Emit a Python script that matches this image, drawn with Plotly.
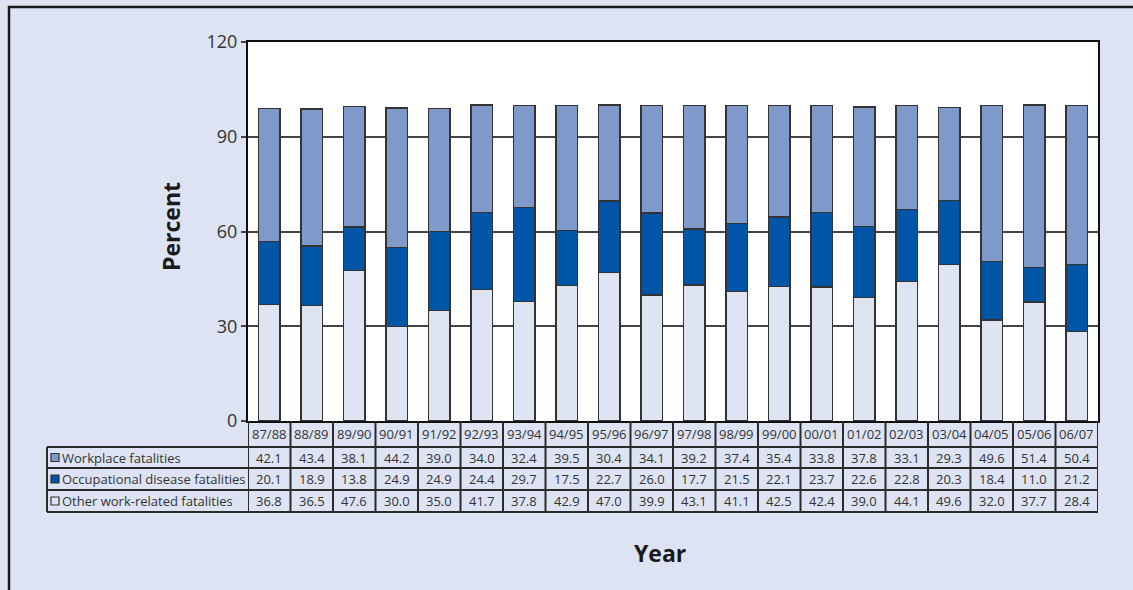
import plotly.graph_objects as go

# Fiscal years and the share of fatalities (percent) in each category
years = ["87/88", "88/89", "89/90", "90/91", "91/92", "92/93", "93/94", "94/95",
         "95/96", "96/97", "97/98", "98/99", "99/00", "00/01", "01/02", "02/03",
         "03/04", "04/05", "05/06", "06/07"]
workplace = [42.1, 43.4, 38.1, 44.2, 39.0, 34.0, 32.4, 39.5, 30.4, 34.1,
             39.2, 37.4, 35.4, 33.8, 37.8, 33.1, 29.3, 49.6, 51.4, 50.4]
occupational = [20.1, 18.9, 13.8, 24.9, 24.9, 24.4, 29.7, 17.5, 22.7, 26.0,
                17.7, 21.5, 22.1, 23.7, 22.6, 22.8, 20.3, 18.4, 11.0, 21.2]
other = [36.8, 36.5, 47.6, 30.0, 35.0, 41.7, 37.8, 42.9, 47.0, 39.9,
         43.1, 41.1, 42.5, 42.4, 39.0, 44.1, 49.6, 32.0, 37.7, 28.4]

series_names = ["Workplace fatalities", "Occupational disease fatalities",
                "Other work-related fatalities"]
y_ticks = [0, 30, 60, 90, 120]

C_WORK = "#7f99cb"
C_OCC = "#0055a6"
C_OTHER = "#dfe4f3"
BG = "#dde3f2"
LINE = "#2a2a2a"

W, H = 1133, 590
PL, PR, PT, PB = 248, 1098, 42, 421  # plot area in pixels


def fx(p):
    return (p - PL) / (PR - PL)


def fy(p):
    return (PB - p) / (PB - PT)


fig = go.Figure()
for name, vals, col in [(series_names[2], other, C_OTHER),
                        (series_names[1], occupational, C_OCC),
                        (series_names[0], workplace, C_WORK)]:
    fig.add_trace(go.Bar(x=years, y=vals, name=name, width=0.5,
                         marker=dict(color=col, line=dict(color="#333333", width=1.3)),
                         showlegend=False))

shapes = []
annotations = []

# outer frame
shapes.append(dict(type="rect", xref="paper", yref="paper",
                   x0=fx(9), x1=fx(W + 20), y0=fy(7), y1=fy(H + 20),
                   line=dict(color="#1a1a1a", width=2.5), layer="below"))

# data table below the plot
row_edges = [421, 447, 468, 490, 512]
table_left = 47
n = len(years)
# horizontal rules
for yp in row_edges[1:]:
    shapes.append(dict(type="line", xref="paper", yref="paper",
                       x0=fx(table_left), x1=1, y0=fy(yp), y1=fy(yp),
                       line=dict(color=LINE, width=2)))
# vertical rules at category boundaries
for i in range(n + 1):
    shapes.append(dict(type="line", xref="x", yref="paper",
                       x0=i - 0.5, x1=i - 0.5, y0=fy(row_edges[0]), y1=fy(row_edges[-1]),
                       line=dict(color=LINE, width=2)))
shapes.append(dict(type="line", xref="paper", yref="paper",
                   x0=fx(table_left), x1=fx(table_left),
                   y0=fy(row_edges[1]), y1=fy(row_edges[-1]),
                   line=dict(color=LINE, width=2)))

tfont = dict(family="Open Sans, Liberation Sans, sans-serif", size=13, color="#333333")
for i, yr in enumerate(years):
    annotations.append(dict(xref="x", yref="paper", x=i,
                            y=fy((row_edges[0] + row_edges[1]) / 2), text=yr,
                            showarrow=False, font=tfont, xanchor="center", yanchor="middle"))
rows = [workplace, occupational, other]
for r, vals in enumerate(rows):
    ymid = fy((row_edges[r + 1] + row_edges[r + 2]) / 2)
    for i, v in enumerate(vals):
        annotations.append(dict(xref="x", yref="paper", x=i, y=ymid, text=f"{v:.1f}",
                                showarrow=False, font=tfont, xanchor="center", yanchor="middle"))

# row labels with colour keys
for r, (name, col) in enumerate(zip(series_names, [C_WORK, C_OCC, C_OTHER])):
    yc = (row_edges[r + 1] + row_edges[r + 2]) / 2
    shapes.append(dict(type="rect", xref="paper", yref="paper",
                       x0=fx(51), x1=fx(59), y0=fy(yc - 4), y1=fy(yc + 4),
                       fillcolor=col, line=dict(color="#333333", width=1.2)))
    annotations.append(dict(xref="paper", yref="paper", x=fx(60), y=fy(yc), text=name,
                            showarrow=False, font=tfont, xanchor="left", yanchor="middle"))

# axis titles
title_font = dict(family="Open Sans, sans-serif", size=23, color="#1a1a1a")
annotations.append(dict(xref="paper", yref="paper", x=fx(171), y=fy(227), text="<b>Percent</b>",
                        textangle=-90, showarrow=False, font=title_font,
                        xanchor="center", yanchor="middle"))
annotations.append(dict(xref="paper", yref="paper", x=fx(660), y=fy(553), text="<b>Year</b>",
                        showarrow=False, font=title_font,
                        xanchor="center", yanchor="middle"))

fig.update_layout(
    width=W, height=H,
    margin=dict(l=PL, r=W - PR, t=PT, b=H - PB, pad=0),
    paper_bgcolor=BG, plot_bgcolor="white",
    barmode="stack", bargap=0.5,
    shapes=shapes, annotations=annotations,
    xaxis=dict(showticklabels=False, ticks="", showgrid=False, showline=True,
               linecolor="#111111", linewidth=2, mirror=True, range=[-0.5, n - 0.5]),
    yaxis=dict(range=[0, 120], tickvals=y_ticks, showgrid=True, gridcolor="#444444",
               gridwidth=1.5, showline=True, linecolor="#111111", linewidth=2, mirror=True,
               ticks="outside", ticklen=5, tickcolor="#444444", tickwidth=1.5,
               tickfont=dict(family="Open Sans, sans-serif", size=18, color="#333333"),
               zeroline=False),
)

fig.write_html("out.html")
